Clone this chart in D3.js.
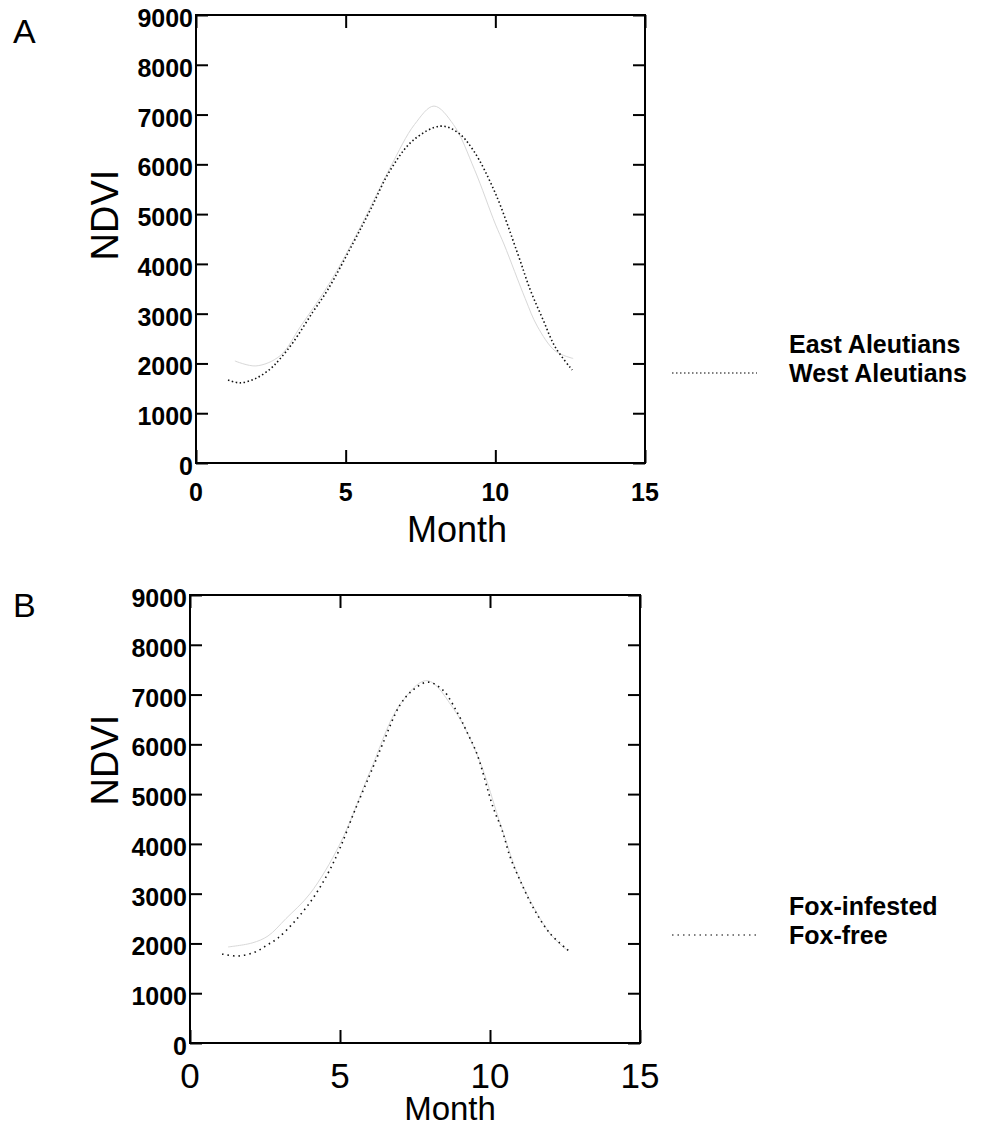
<!DOCTYPE html>
<html>
  <head>
    <meta charset="utf-8">
    <title>NDVI by month</title>
    <script src="https://d3js.org/d3.v7.min.js"></script>
    <style>
      body { margin: 0; background: #fff; }
      text { font-family: "Liberation Sans", Arial, sans-serif; fill: #000; }
      .tick-label { font-weight: bold; font-size: 25px; }
      .legend { font-weight: bold; font-size: 25px; }
    </style>
  </head>
  <body>
  <svg id="chart" width="993" height="1129"></svg>

  <script>
  // ---- data ----
  var yTicks = [0, 1000, 2000, 3000, 4000, 5000, 6000, 7000, 8000, 9000];
  var xTicks = [0, 5, 10, 15];

  // panel A
  var monthsEast = [1.3, 2.0, 2.8, 3.5, 4.5, 5.5, 6.5, 7.3, 7.95, 8.6, 9.3, 10.0, 10.3, 11.0, 11.4, 12.0, 12.6];
  var ndviEast   = [2050, 1950, 2150, 2750, 3650, 4750, 5950, 6800, 7170, 6800, 5900, 4800, 4380, 3300, 2750, 2250, 2100];
  var monthsWest = [1.07, 1.47, 2.0, 2.5, 2.8, 3.25, 3.9, 4.4, 5.25, 5.82, 6.49, 7.26, 8.16, 8.73, 9.26, 10.0, 10.74, 11.17, 11.6, 12.0, 12.57];
  var ndviWest   = [1667, 1610, 1700, 1900, 2088, 2430, 3030, 3480, 4418, 5080, 5883, 6486, 6767, 6647, 6285, 5420, 4217, 3474, 2870, 2330, 1867];

  // panel B
  var monthsInfested = [1.27, 2.07, 2.6, 3.2, 4.0, 5.0, 6.0, 7.0, 7.9, 8.8, 9.6, 10.4, 11.0, 12.0, 12.6];
  var ndviInfested   = [1930, 2010, 2150, 2500, 3000, 4000, 5450, 6800, 7280, 6700, 5750, 4300, 3280, 2200, 1850];
  var monthsFree = [1.07, 1.6, 2.17, 2.57, 2.93, 3.5, 4.1, 4.6, 5.0, 5.5, 6.1, 6.43, 7.0, 7.43, 7.93, 8.43, 8.9, 9.23, 9.57, 10.1, 10.4, 10.67, 11.0, 11.43, 12.0, 12.67];
  var ndviFree   = [1787, 1747, 1827, 1968, 2108, 2450, 2910, 3410, 3915, 4680, 5540, 6020, 6790, 7090, 7250, 7090, 6650, 6250, 5800, 4740, 4280, 3740, 3270, 2730, 2200, 1830];

  var svg = d3.select("#chart");

  function zip(ms, vs) {
    return ms.map(function(m, i) { return { m: m, v: vs[i] }; });
  }

  function drawPanel(p) {
    var x = d3.scaleLinear().domain([0, 15]).range([p.left, p.right]);
    var y = d3.scaleLinear().domain([0, 9000]).range([p.bottom, p.top]);
    var g = svg.append("g");

    // frame with inward ticks on every side
    g.append("rect")
      .attr("x", p.left).attr("y", p.top)
      .attr("width", p.right - p.left).attr("height", p.bottom - p.top)
      .attr("fill", "none").attr("stroke", "#000").attr("stroke-width", 2);

    g.append("g").attr("transform", "translate(" + p.left + ",0)")
      .call(d3.axisRight(y).tickValues(yTicks).tickSize(12).tickFormat(""));
    g.append("g").attr("transform", "translate(" + p.right + ",0)")
      .call(d3.axisLeft(y).tickValues(yTicks).tickSize(12).tickFormat(""));
    g.append("g").attr("transform", "translate(0," + p.bottom + ")")
      .call(d3.axisTop(x).tickValues(xTicks).tickSize(13).tickFormat(""));
    g.append("g").attr("transform", "translate(0," + p.top + ")")
      .call(d3.axisBottom(x).tickValues(xTicks).tickSize(13).tickFormat(""));
    g.selectAll(".domain").remove();
    g.selectAll(".tick line").attr("stroke", "#000").attr("stroke-width", 2);

    // tick labels
    g.selectAll(".ylab").data(yTicks).enter().append("text")
      .attr("class", "tick-label")
      .attr("x", p.left - 3)
      .attr("y", function(d) { return y(d) + 12; })
      .attr("text-anchor", "end")
      .text(function(d) { return d; });

    g.selectAll(".xlab").data(xTicks).enter().append("text")
      .attr("class", p.xLabelClass)
      .attr("x", function(d) { return x(d); })
      .attr("y", p.xLabelY)
      .attr("text-anchor", "middle")
      .style("font-size", p.xLabelSize)
      .text(function(d) { return d; });

    g.append("text")
      .attr("x", p.monthX).attr("y", p.monthY)
      .attr("text-anchor", "middle")
      .style("font-size", p.monthSize)
      .text("Month");

    g.append("text")
      .attr("transform", "translate(" + p.ndviX + "," + p.ndviY + ") rotate(-90)")
      .attr("text-anchor", "middle")
      .style("font-size", "38px")
      .text("NDVI");

    g.append("text")
      .attr("x", 13).attr("y", p.letterY)
      .style("font-size", "34px")
      .text(p.letter);

    var line = d3.line()
      .x(function(d) { return x(d.m); })
      .y(function(d) { return y(d.v); })
      .curve(d3.curveCatmullRom);

    // solid series barely survives in the scan
    g.append("path")
      .attr("d", line(p.solid))
      .attr("fill", "none").attr("stroke", "#d8d8d8").attr("stroke-width", 1);
    g.append("path")
      .attr("d", line(p.dotted))
      .attr("fill", "none").attr("stroke", "#111").attr("stroke-width", 1.6)
      .attr("stroke-dasharray", p.dash);

    // legend
    g.append("text").attr("class", "legend")
      .attr("x", 789).attr("y", p.legendY)
      .text(p.names[0]);
    g.append("text").attr("class", "legend")
      .attr("x", 789).attr("y", p.legendY + 29)
      .text(p.names[1]);
    g.append("line")
      .attr("x1", 672).attr("x2", 757)
      .attr("y1", p.legendY + 20).attr("y2", p.legendY + 20)
      .attr("stroke", "#555").attr("stroke-width", 1.3)
      .attr("stroke-dasharray", p.dash);
  }

  drawPanel({
    left: 196, right: 645, top: 15, bottom: 463,
    xLabelClass: "tick-label", xLabelSize: "25px", xLabelY: 501,
    monthX: 457, monthY: 542, monthSize: "36px", ndviX: 118, ndviY: 215,
    letter: "A", letterY: 43,
    solid: zip(monthsEast, ndviEast), dotted: zip(monthsWest, ndviWest),
    dash: "1.5,2.5",
    names: ["East Aleutians", "West Aleutians"], legendY: 353
  });

  drawPanel({
    left: 190, right: 640, top: 595, bottom: 1043,
    xLabelClass: "", xLabelSize: "35px", xLabelY: 1088,
    monthX: 450, monthY: 1120, monthSize: "33px", ndviX: 118, ndviY: 760,
    letter: "B", letterY: 617,
    solid: zip(monthsInfested, ndviInfested), dotted: zip(monthsFree, ndviFree),
    dash: "1.5,4",
    names: ["Fox-infested", "Fox-free"], legendY: 915
  });
  </script>
  </body>
</html>
